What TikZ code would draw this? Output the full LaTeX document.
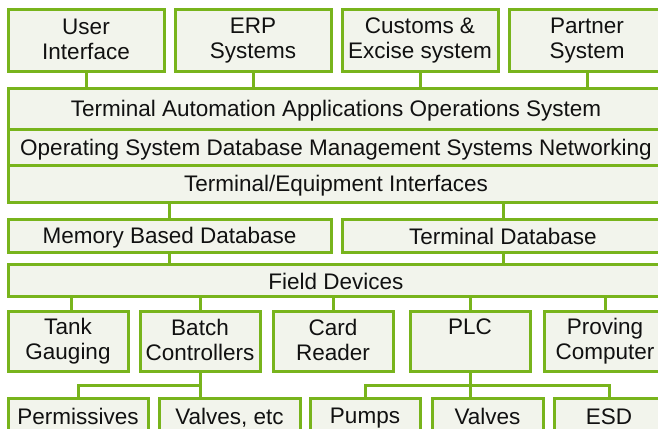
\documentclass[tikz,border=0pt]{standalone}
\usepackage{fontspec}
\setmainfont{Liberation Sans}
\definecolor{boxgreen}{HTML}{78B41C}
\definecolor{boxfill}{HTML}{F2F4EC}
\definecolor{txt}{HTML}{111111}
\newcommand\boxstrut{\rule[-3pt]{0pt}{24pt}}
\begin{document}
\begin{tikzpicture}[x=1pt,y=-1pt,
  box/.style={draw=boxgreen, line width=3pt, fill=boxfill, rectangle, inner sep=0pt, outer sep=0pt,
    align=center, text=txt, font=\fontsize{22.5}{25}\selectfont,
    execute at begin node=\boxstrut, execute at end node=\boxstrut},
  conn/.style={draw=boxgreen, line width=3pt}]
\useasboundingbox (0,0) rectangle (658,428);
\clip (0,0) rectangle (658,428);
\fill[white] (0,0) rectangle (658,428);
\coordinate (bj) at (200,385);
\coordinate (pj) at (470,385);
% top row
\node[box, minimum width=156, minimum height=61] (ui) at (86,40.5) {User\\Interface};
\node[box, minimum width=156, minimum height=61] (erp) at (253,40.5) {ERP\\Systems};
\node[box, minimum width=156, minimum height=61] (cust) at (420,40.5) {Customs \&\\Excise system};
\node[box, minimum width=156, minimum height=61] (partner) at (587,40.5) {Partner\\System};
% stack
\node[box, minimum width=656, minimum height=41] (ta) at (336,108.5) {Terminal Automation Applications Operations System};
\node[box, minimum width=656, minimum height=36] (os) at (336,147) {Operating System Database Management Systems Networking};
\node[box, minimum width=656, minimum height=37] (te) at (336,183.5) {Terminal/Equipment Interfaces};
% databases
\node[box, minimum width=323, minimum height=33] (mem) at (169.5,235.5) {Memory Based Database};
\node[box, minimum width=322, minimum height=33] (tdb) at (503,235.5) {Terminal Database};
% field devices
\node[box, minimum width=656, minimum height=32] (fd) at (336,280) {Field Devices};
% devices
\node[box, minimum width=120, minimum height=60] (tank) at (68,341) {Tank\\Gauging};
\node[box, minimum width=120, minimum height=60] (batch) at (200,341) {Batch\\Controllers};
\node[box, minimum width=120, minimum height=60] (card) at (333,341) {Card\\Reader};
\node[box, minimum width=120, minimum height=60] (plc) at (470,341) {PLC\\};
\node[box, minimum width=122, minimum height=60] (prov) at (605,341) {Proving\\Computer};
% bottom row
\node[box, minimum width=140, minimum height=34] (perm) at (78,415) {Permissives};
\node[box, minimum width=141, minimum height=34] (valetc) at (229.5,415) {Valves, etc};
\node[box, minimum width=110, minimum height=34] (pumps) at (365,415) {Pumps};
\node[box, minimum width=111, minimum height=34] (valves) at (487.5,415) {Valves};
\node[box, minimum width=110, minimum height=34] (esd) at (609,415) {ESD};
% connectors
\draw[conn] (ui.south) -- (ui.south |- ta.north);
\draw[conn] (erp.south) -- (erp.south |- ta.north);
\draw[conn] (cust.south) -- (cust.south |- ta.north);
\draw[conn] (partner.south) -- (partner.south |- ta.north);
\draw[conn] (te.south -| mem.north) -- (mem.north);
\draw[conn] (te.south -| tdb.north) -- (tdb.north);
\draw[conn] (mem.south) -- (mem.south |- fd.north);
\draw[conn] (tdb.south) -- (tdb.south |- fd.north);
\draw[conn] ([xshift=3pt]tank.north |- fd.south) -- ([xshift=3pt]tank.north);
\draw[conn] (fd.south -| batch.north) -- (batch.north);
\draw[conn] (fd.south -| card.north) -- (card.north);
\draw[conn] (fd.south -| plc.north) -- (plc.north);
\draw[conn] (fd.south -| prov.north) -- (prov.north);
\draw[conn] (batch.south) -- (batch.south |- valetc.north);
\draw[conn] (bj) -| (perm.north);
\draw[conn] (plc.south) -- (plc.south |- valves.north);
\draw[conn] (pumps.north) |- (pj) -| (esd.north);
\end{tikzpicture}
\end{document}
